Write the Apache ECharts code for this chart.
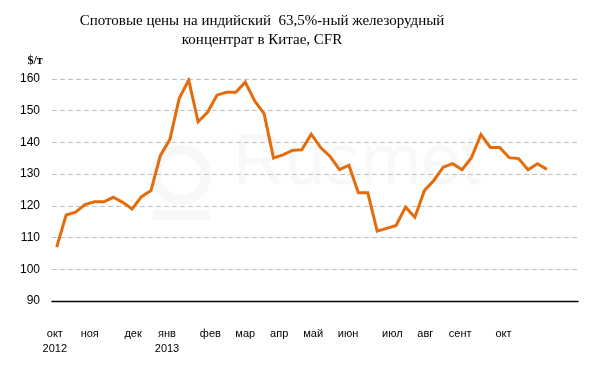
<!DOCTYPE html>
<html>
<head>
<meta charset="utf-8">
<script src="https://cdn.jsdelivr.net/npm/echarts@6/dist/echarts.min.js"></script>
<style>html,body{margin:0;padding:0;background:#fff}#c{width:603px;height:374px}</style>
</head>
<body>
<div id="c"></div>
<script>
// Weekly spot prices, $/t
const prices = [107, 117.1, 118, 120.4, 121.3, 121.3, 122.7, 121.1, 119, 122.9,
  124.8, 135.9, 140.9, 153.9, 159.7, 146.5, 149.5, 154.9, 155.8, 155.8,
  159, 153.1, 149.1, 135.1, 136.1, 137.5, 137.7, 142.6, 138.4, 135.6,
  131.4, 132.8, 124.1, 124.1, 112, 112.9, 113.8, 119.6, 116.4, 124.8,
  128, 132.2, 133.3, 131.4, 135.2, 142.5, 138.4, 138.4, 135.2, 134.9,
  131.4, 133.3, 131.5];
// Month tick labels and their positions (in week index units)
const monthLabels = ['окт\n2012', 'ноя', 'дек', 'янв\n2013', 'фев', 'мар', 'апр', 'май', 'июн', 'июл', 'авг', 'сент', 'окт'];
const monthPos = [-0.2, 3.5, 8.1, 11.7, 16.3, 20.0, 23.6, 27.2, 30.9, 35.6, 39.1, 42.8, 47.4];
const yTicks = [90, 100, 110, 120, 130, 140, 150, 160];

const chart = echarts.init(document.getElementById('c'));
chart.setOption({
  backgroundColor: '#fff',
  animation: false,
  title: {
    text: 'Спотовые цены на индийский  63,5%-ный железорудный\nконцентрат в Китае, CFR',
    left: 262, top: 11, padding: 0, textAlign: 'center',
    textStyle: { fontFamily: 'Liberation Serif', fontSize: 15, fontWeight: 'normal', color: '#000', lineHeight: 19.5 }
  },
  graphic: [
    { type: 'circle', shape: { cx: 181, cy: 175, r: 25 }, style: { fill: 'none', stroke: '#f8f8f8', lineWidth: 10 }, z: -10 },
    { type: 'rect', shape: { x: 153, y: 210, width: 57, height: 10 }, style: { fill: '#f8f8f8' }, z: -10 },
    { type: 'text', x: 233, y: 200, style: { text: 'Rusmet', font: '72px "Liberation Sans"', fill: '#f8f8f8', textVerticalAlign: 'bottom' }, z: -10 }
  ],
  grid: { left: 52, right: 25, top: 79, bottom: 73 },
  xAxis: {
    type: 'value', min: -0.5, max: 55.3,
    splitLine: { show: false },
    axisLine: { show: true, onZero: false, lineStyle: { color: '#000', width: 1.3 } },
    axisTick: { show: false },
    axisLabel: {
      customValues: monthPos,
      margin: 25,
      fontFamily: 'Liberation Sans', fontSize: 11, color: '#000', lineHeight: 15,
      showMinLabel: true, showMaxLabel: true,
      formatter: function (v) {
        let best = 0, d = Infinity;
        monthPos.forEach((p, i) => { if (Math.abs(p - v) < d) { d = Math.abs(p - v); best = i; } });
        return monthLabels[best];
      }
    }
  },
  yAxis: {
    type: 'value', min: 90, max: 160, interval: 10,
    name: '$/т', nameLocation: 'end', nameGap: 18,
    nameTextStyle: { fontFamily: 'Liberation Serif', fontWeight: 'bold', fontSize: 12, color: '#000', align: 'right', verticalAlign: 'middle', padding: [0, 14, 0, 0] },
    axisLine: { show: false }, axisTick: { show: false },
    axisLabel: { margin: 12, fontFamily: 'Liberation Sans', fontSize: 12, color: '#000',
      formatter: v => yTicks.includes(v) ? String(v) : '' },
    splitLine: { show: true, lineStyle: { color: '#c0c0c0', type: [5, 3], width: 1 } }
  },
  series: [{
    type: 'line',
    data: prices.map((v, i) => [i, v]),
    symbol: 'none',
    lineStyle: { color: '#E46C0A', width: 3, join: 'miter' },
    itemStyle: { color: '#E46C0A' }
  }]
});
</script>
</body>
</html>
